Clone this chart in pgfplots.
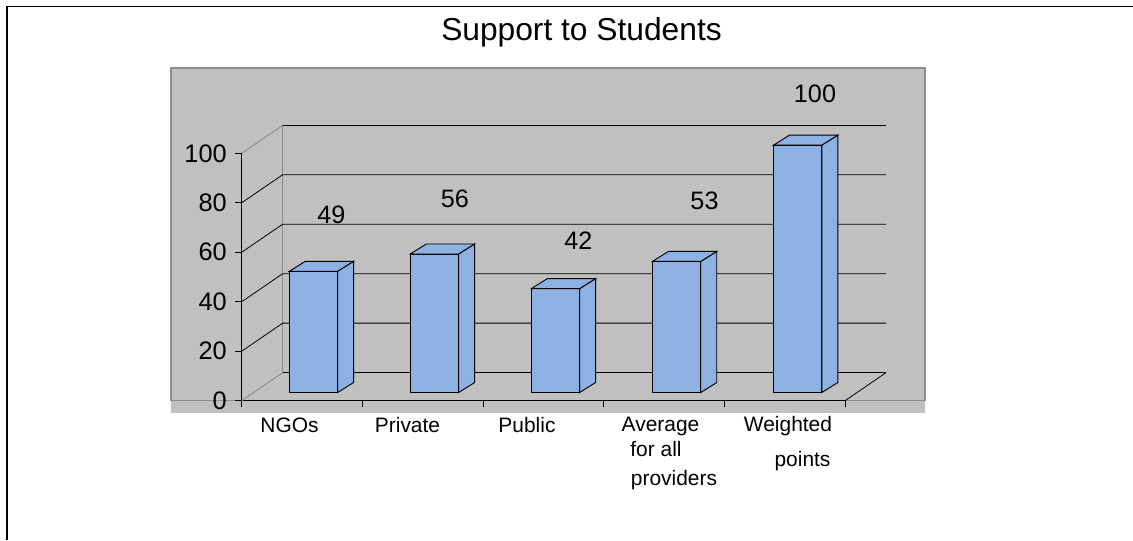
\documentclass[border=0pt]{standalone}
\usepackage{pgfplots}
\usepackage{fontspec}
\setmainfont{Liberation Sans}
\pgfplotsset{compat=1.18}
\definecolor{plotgray}{HTML}{C0C0C0}
\definecolor{framegray}{HTML}{8C8C8C}
\definecolor{barblue}{HTML}{8CB1E2}
% pseudo-3D offsets, in axis units
\def\barw{0.4}
\def\barbase{3.3}
\def\bardx{0.1326}
\def\bardy{4.05}
% one solid bar: left edge, value
\newcommand{\solidbar}[2]{%
  \pgfmathsetmacro\xa{#1}\pgfmathsetmacro\xb{#1+\barw}\pgfmathsetmacro\xc{\xb+\bardx}\pgfmathsetmacro\xd{\xa+\bardx}%
  \pgfmathsetmacro\ya{\barbase}\pgfmathsetmacro\yb{\barbase+#2}\pgfmathsetmacro\yc{\yb+\bardy}\pgfmathsetmacro\yd{\ya+\bardy}%
  \addplot[fill=barblue,draw=black,line width=.7pt,mark=none] coordinates {(\xa,\ya) (\xb,\ya) (\xb,\yb) (\xa,\yb)} --cycle;
  \addplot[fill=barblue,draw=black,line width=.7pt,mark=none] coordinates {(\xb,\ya) (\xc,\yd) (\xc,\yc) (\xb,\yb)} --cycle;
  \addplot[fill=barblue,draw=black,line width=.7pt,mark=none] coordinates {(\xa,\yb) (\xb,\yb) (\xc,\yc) (\xd,\yc)} --cycle;
}
\begin{document}
\begin{tikzpicture}[x=.75pt,y=.75pt]
  \path[use as bounding box] (0,0) rectangle (1133,540);
  % outer frame: top and left sides only
  \draw[black,line width=1.4pt] (7,0) -- (7,533.5) -- (1133,533.5);
  % plot area
  \fill[plotgray] (171,127.3) rectangle (925,472);
  \draw[framegray,line width=.8pt] (171,139.5) -- (171,472) -- (925,472) -- (925,139.5) -- cycle;
  \begin{axis}[
    at={(181.275pt,104.475pt)}, anchor=south west,
    scale only axis, width=452.5pt, height=185.55pt,
    xmin=0, xmax=5, ymin=0, ymax=100,
    clip=false,
    axis lines*=left,
    axis line style={black,line width=.7pt},
    xtick={0,1,2,3,4,5}, xticklabels={},
    ytick={0,20,40,60,80,100},
    tick style={black,line width=.8pt},
    tick align=outside,
    major tick length=5pt,
    yticklabel style={font=\fontsize{19}{21}\selectfont,/pgf/number format/assume math mode=true,inner sep=0pt,xshift=-6pt},
  ]
    % back wall and side wall
    \draw[framegray,line width=.7pt] (0.34,11.35) -- (0.34,111.35);
    \draw[framegray,line width=.7pt] (0,0) -- (0.34,11.35);
    \draw[framegray,line width=.7pt] (0,100) -- (0.34,111.35);
    \draw[black,line width=.6pt] (0,20) -- (0.34,31.35) -- (5.34,31.35);
    \draw[black,line width=.6pt] (0,40) -- (0.34,51.35) -- (5.34,51.35);
    \draw[black,line width=.6pt] (0,60) -- (0.34,71.35) -- (5.34,71.35);
    \draw[black,line width=.6pt] (0,80) -- (0.34,91.35) -- (5.34,91.35);
    \draw[black,line width=.6pt] (0.34,111.35) -- (5.34,111.35);
    % floor
    \draw[black,line width=1pt] (0.34,11.35) -- (5.34,11.35);
    \draw[black,line width=.6pt] (5,0) -- (5.34,11.35);
    % bars
    \solidbar{0.3945}{49}
    \solidbar{1.3975}{56}
    \solidbar{2.4005}{42}
    \solidbar{3.4045}{53}
    \solidbar{4.4075}{100}
  \end{axis}
  % title
  \node[anchor=base,inner sep=0pt,font=\fontsize{23.8}{26}\selectfont] at (581.5,499.5) {Support to Students};
  % value labels
  \begin{scope}[every node/.style={anchor=base,inner sep=0pt,font=\fontsize{18.9}{21}\selectfont}]
    \node at (331.5,316) {49};
    \node at (455,332) {56};
    \node at (578.5,290) {42};
    \node at (704.5,330) {53};
    \node at (815,437.7) {100};
  \end{scope}
  % category labels
  \begin{scope}[every node/.style={anchor=base,inner sep=0pt,font=\fontsize{15.7}{18}\selectfont}]
    \node at (289.5,108) {NGOs};
    \node at (407.5,108) {Private};
    \node at (527,108) {Public};
    \node at (660.5,108.3) {Average};
    \node at (656,84) {for all};
    \node at (674,55) {providers};
    \node at (788,108.3) {Weighted};
    \node at (802.5,74) {points};
  \end{scope}
\end{tikzpicture}
\end{document}
